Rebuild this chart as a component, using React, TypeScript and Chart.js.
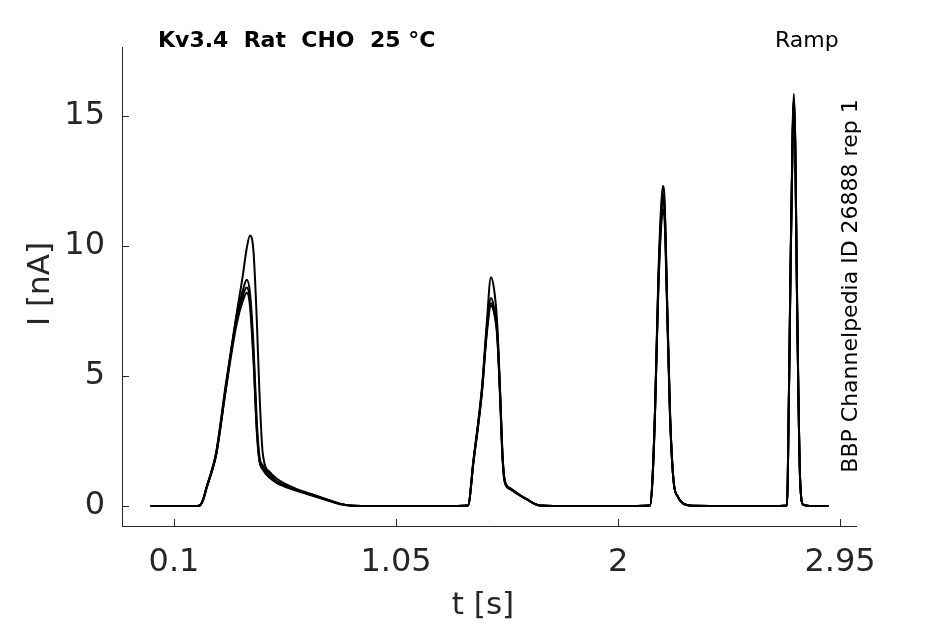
import React, { useEffect, useRef } from 'react';
import Chart from 'chart.js/auto';

// shared sample times [s]
const timeS = [
  0, 0.1, 0.2, 0.211, 0.225, 0.24, 0.26, 0.28, 0.322, 0.368, 0.395, 0.411, 0.425, 0.44, 0.454, 0.465,
  0.48, 0.51, 0.54, 0.57, 0.626, 0.69, 0.755, 0.81, 0.866, 0.95, 1.1, 1.25, 1.358, 1.381, 1.418, 1.438,
  1.456, 1.47, 1.483, 1.495, 1.506, 1.516, 1.54, 1.567, 1.61, 1.666, 1.8, 2.0, 2.137, 2.147, 2.158, 2.172,
  2.184, 2.192, 2.2, 2.208, 2.222, 2.237, 2.256, 2.278, 2.32, 2.5, 2.65, 2.722, 2.726, 2.737, 2.747, 2.752,
  2.758, 2.765, 2.779, 2.792, 2.82, 2.9,
];

// currents [nA], one array per sweep
const sweepA = [
  0, 0, 0, 0.02, 0.25, 0.73, 1.3, 2.0, 4.6, 7.2, 8.1, 8.4, 7.9, 5.8, 3.0, 1.8,
  1.45, 1.1, 0.9, 0.78, 0.6, 0.42, 0.23, 0.08, 0.01, 0, 0, 0, 0.02, 1.7, 4.5, 6.8,
  8.0, 7.6, 6.7, 4.3, 1.8, 0.9, 0.65, 0.48, 0.25, 0.02, 0, 0, 0.02, 1.0, 3.6, 8.5,
  11.2, 12.0, 11.3, 8.5, 3.6, 1.0, 0.35, 0.1, 0.01, 0, 0, 0.02, 1.0, 8.5, 14.4, 15.7,
  14.0, 8.5, 1.0, 0.05, 0, 0,
];
const sweepB = [
  0, 0, 0, 0.02, 0.26, 0.75, 1.33, 2.05, 4.7, 7.4, 8.9, 9.9, 10.4, 9.8, 7.2, 4.5,
  2.0, 1.3, 1.05, 0.88, 0.65, 0.45, 0.25, 0.09, 0.01, 0, 0, 0, 0.02, 1.75, 4.6, 7.0,
  8.8, 8.3, 7.0, 4.5, 1.9, 0.95, 0.68, 0.5, 0.26, 0.02, 0, 0, 0.02, 1.0, 3.7, 8.7,
  11.5, 12.3, 11.6, 8.7, 3.7, 1.0, 0.35, 0.1, 0.01, 0, 0, 0.02, 1.0, 8.7, 14.6, 15.85,
  14.1, 8.7, 1.0, 0.05, 0, 0,
];
const sweepC = [
  0, 0, 0, 0.02, 0.24, 0.7, 1.27, 1.95, 4.5, 7.3, 8.3, 8.7, 8.2, 6.2, 3.3, 1.95,
  1.55, 1.2, 0.95, 0.82, 0.62, 0.44, 0.24, 0.08, 0.01, 0, 0, 0, 0.02, 1.65, 4.4, 6.7,
  7.8, 7.5, 6.6, 4.4, 1.9, 0.95, 0.66, 0.5, 0.25, 0.02, 0, 0, 0.02, 0.95, 3.5, 8.2,
  10.7, 11.4, 10.8, 8.2, 3.5, 1.0, 0.35, 0.1, 0.01, 0, 0, 0.02, 0.95, 8.3, 14.2, 15.5,
  13.8, 8.3, 1.0, 0.05, 0, 0,
];
const sweepD = [
  0, 0, 0, 0.02, 0.25, 0.72, 1.28, 1.95, 4.5, 7.0, 7.9, 8.2, 7.7, 5.6, 2.9, 1.75,
  1.4, 1.08, 0.88, 0.76, 0.58, 0.4, 0.22, 0.07, 0.01, 0, 0, 0, 0.02, 1.7, 4.45, 6.6,
  7.7, 7.4, 6.5, 4.2, 1.75, 0.88, 0.64, 0.47, 0.24, 0.02, 0, 0, 0.02, 1.0, 3.6, 8.4,
  11.0, 11.8, 11.1, 8.4, 3.6, 1.0, 0.35, 0.1, 0.01, 0, 0, 0.02, 1.0, 8.5, 14.3, 15.6,
  13.9, 8.5, 1.0, 0.05, 0, 0,
];
const sweeps = [sweepA, sweepB, sweepC, sweepD];

const xTicks = [0.1, 1.05, 2, 2.95];
const xTickLabels = ['0.1', '1.05', '2', '2.95'];
const yTicks = [0, 5, 10, 15];

const titleText = 'Kv3.4  Rat  CHO  25 °C';
const protocolText = 'Ramp';
const sourceText = 'BBP Channelpedia ID 26888 rep 1';

const axisColor = '#262626';
const fontFamily = '"DejaVu Sans", sans-serif';

const overlayPlugin = {
  id: 'overlay',
  afterDraw(chart: any) {
    const { ctx, chartArea, scales } = chart;
    ctx.save();
    // inward tick marks
    ctx.strokeStyle = axisColor;
    ctx.lineWidth = 1;
    ctx.beginPath();
    yTicks.forEach((v) => {
      const py = Math.round(scales.y.getPixelForValue(v)) + 0.5;
      ctx.moveTo(chartArea.left, py);
      ctx.lineTo(chartArea.left + 7, py);
    });
    xTicks.forEach((v) => {
      const px = Math.round(scales.x.getPixelForValue(v)) + 0.5;
      ctx.moveTo(px, chartArea.bottom);
      ctx.lineTo(px, chartArea.bottom - 7);
    });
    ctx.stroke();

    // header texts
    ctx.fillStyle = '#000';
    ctx.textBaseline = 'alphabetic';
    ctx.textAlign = 'left';
    ctx.font = `bold 22px ${fontFamily}`;
    ctx.fillText(titleText, 158, 47);
    ctx.font = `22px ${fontFamily}`;
    ctx.fillText(protocolText, 775, 47);

    // vertical source label
    ctx.save();
    ctx.translate(857, 286);
    ctx.rotate(-Math.PI / 2);
    ctx.textAlign = 'center';
    ctx.font = `22px ${fontFamily}`;
    ctx.fillText(sourceText, 0, 0);
    ctx.restore();

    // axis titles
    ctx.fillStyle = axisColor;
    ctx.font = `31px ${fontFamily}`;
    ctx.textAlign = 'center';
    ctx.fillText('t [s]', 483, 614);
    ctx.save();
    ctx.translate(49, 284);
    ctx.rotate(-Math.PI / 2);
    ctx.fillText('I [nA]', 0, 0);
    ctx.restore();
    ctx.restore();
  },
};

const App: React.FC = () => {
  const canvasRef = useRef<HTMLCanvasElement>(null);
  const chartRef = useRef<Chart<'line'> | null>(null);

  useEffect(() => {
    document.body.style.margin = '0';
    const ctx = canvasRef.current?.getContext('2d');
    if (!ctx) return;
    if (chartRef.current) chartRef.current.destroy();

    chartRef.current = new Chart(ctx, {
      type: 'line',
      data: {
        datasets: sweeps.map((sweep) => ({
          data: timeS.map((t, i) => ({ x: t, y: sweep[i] })),
          borderColor: '#000',
          borderWidth: 2,
          pointRadius: 0,
          fill: false,
          cubicInterpolationMode: 'monotone' as const,
        })),
      },
      options: {
        animation: false,
        responsive: false,
        devicePixelRatio: 1,
        layout: { padding: { top: 47, right: 89, bottom: 0, left: 0 } },
        plugins: {
          legend: { display: false },
          tooltip: { enabled: false },
        },
        scales: {
          x: {
            type: 'linear',
            min: -0.1225,
            max: 3.018,
            afterBuildTicks: (scale: any) => {
              scale.ticks = xTicks.map((v) => ({ value: v }));
            },
            afterFit: (scale: any) => {
              scale.height = 98;
            },
            ticks: {
              autoSkip: false,
              maxRotation: 0,
              padding: 17,
              color: axisColor,
              font: { family: fontFamily, size: 32 },
              callback: (v: any) => xTickLabels[xTicks.indexOf(Number(v))] ?? '',
            },
            grid: { drawOnChartArea: false, drawTicks: false },
            border: { color: axisColor, width: 1 },
          },
          y: {
            type: 'linear',
            min: -0.77,
            max: 17.65,
            afterBuildTicks: (scale: any) => {
              scale.ticks = yTicks.map((v) => ({ value: v }));
            },
            afterFit: (scale: any) => {
              scale.width = 122;
            },
            ticks: {
              autoSkip: false,
              padding: 17,
              color: axisColor,
              font: { family: fontFamily, size: 32 },
            },
            grid: { drawOnChartArea: false, drawTicks: false },
            border: { color: axisColor, width: 1 },
          },
        },
      },
      plugins: [overlayPlugin],
    });

    return () => {
      if (chartRef.current) {
        chartRef.current.destroy();
        chartRef.current = null;
      }
    };
  }, []);

  return (
    <div style={{ position: 'absolute', left: 0, top: 0 }}>
      <canvas ref={canvasRef} width={945} height={624} />
    </div>
  );
};

export default App;
